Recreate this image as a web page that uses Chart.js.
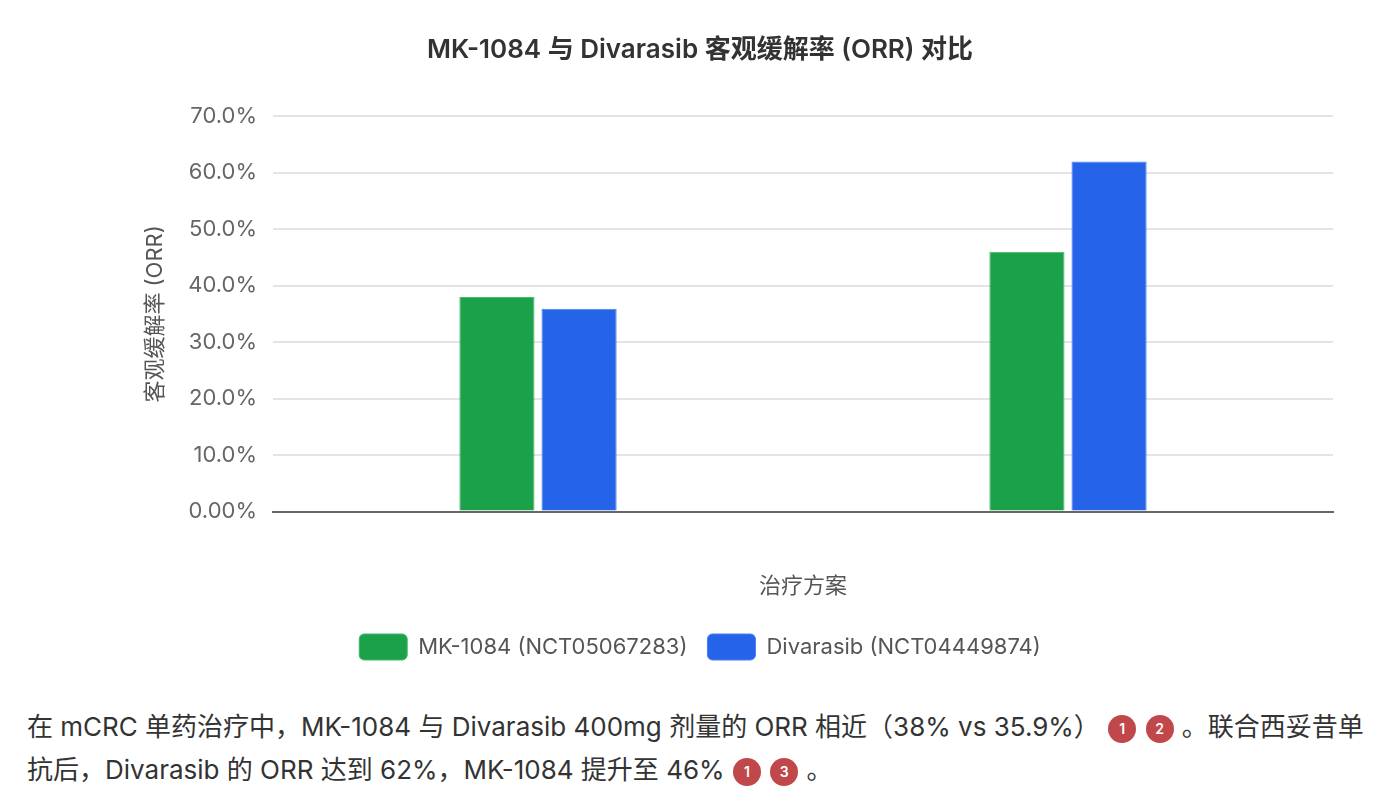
<!DOCTYPE html>
<html lang="zh">
<head>
<meta charset="utf-8">
<title>MK-1084 与 Divarasib 客观缓解率 (ORR) 对比</title>
<script src="https://cdn.jsdelivr.net/npm/chart.js@4"></script>
<style>
  body { margin: 0; background: #fff; font-family: Inter, 'Noto Sans CJK SC', sans-serif; }
  #wrap { position: relative; width: 1400px; height: 680px; }
  .note { margin: 25px 0 0 27px; width: 1370px; font-size: 26px; line-height: 43px; color: #333; white-space: nowrap; }
  .ref { display: inline-block; width: 28px; height: 28px; border-radius: 50%; background: #c0484b;
         color: #fff; font-size: 14px; font-weight: 600; line-height: 28px; text-align: center; vertical-align: middle; margin: 0 1px; }
</style>
</head>
<body>
<div id="wrap"><canvas id="orrChart"></canvas></div>
<p class="note">在 mCRC 单药治疗中，MK-1084 与 Divarasib 400mg 剂量的 ORR 相近（38% vs 35.9%） <span class="ref">1</span> <span class="ref">2</span> 。联合西妥昔单<br>抗后，Divarasib 的 ORR 达到 62%，MK-1084 提升至 46% <span class="ref">1</span> <span class="ref">3</span> 。</p>
<script>
// data
const categories = ['单药治疗', '联合西妥昔单抗'];
const seriesNames = ['MK-1084 (NCT05067283)', 'Divarasib (NCT04449874)'];
const mk1084Values = [38, 46];
const divarasibValues = [35.9, 62];
const yTickLabels = ['0.00%', '10.0%', '20.0%', '30.0%', '40.0%', '50.0%', '60.0%', '70.0%'];

const ctx = document.getElementById('orrChart').getContext('2d');
const baseFont = "Inter, 'Noto Sans CJK SC', sans-serif";

new Chart(ctx, {
  type: 'bar',
  data: {
    labels: categories,
    datasets: [
      {
        label: seriesNames[0],
        data: mk1084Values,
        backgroundColor: '#1aa14a',
        borderColor: '#45b96c',
        borderWidth: 1
      },
      {
        label: seriesNames[1],
        data: divarasibValues,
        backgroundColor: '#2563e8',
        borderColor: '#4a80ee',
        borderWidth: 1
      }
    ]
  },
  options: {
    responsive: true,
    maintainAspectRatio: false,
    animation: false,
    layout: { padding: { top: 35, right: 67, bottom: 10, left: 67 } },
    datasets: { bar: { categoryPercentage: 0.31, barPercentage: 0.915 } },
    plugins: {
      title: {
        display: true,
        text: 'MK-1084 与 Divarasib 客观缓解率 (ORR) 对比',
        color: '#333',
        font: { family: baseFont, size: 26, weight: '600' },
        padding: { top: 0, bottom: 50 }
      },
      legend: {
        position: 'bottom',
        labels: {
          color: '#555',
          font: { family: baseFont, size: 22 },
          boxWidth: 48,
          boxHeight: 26,
          useBorderRadius: true,
          borderRadius: 5,
          padding: 20
        }
      },
      tooltip: { enabled: false }
    },
    scales: {
      x: {
        grid: { display: false, drawTicks: false },
        border: { display: true, color: '#666', width: 2 },
        ticks: { display: false },
        title: {
          display: true,
          text: '治疗方案',
          color: '#555',
          font: { family: baseFont, size: 22 },
          padding: { top: 62, bottom: 14 }
        }
      },
      y: {
        min: 0,
        max: 70,
        afterFit: (scale) => { scale.width = 206; },
        ticks: {
          stepSize: 10,
          color: '#666',
          padding: 16,
          font: { family: baseFont, size: 22 },
          callback: (value, index) => yTickLabels[index]
        },
        grid: { color: '#e3e3e8', lineWidth: 2, drawTicks: false },
        border: { display: false },
        title: {
          display: true,
          text: '客观缓解率 (ORR)',
          color: '#555',
          font: { family: baseFont, size: 22 },
          padding: { top: 75, bottom: 0 }
        }
      }
    }
  }
});
</script>
</body>
</html>
